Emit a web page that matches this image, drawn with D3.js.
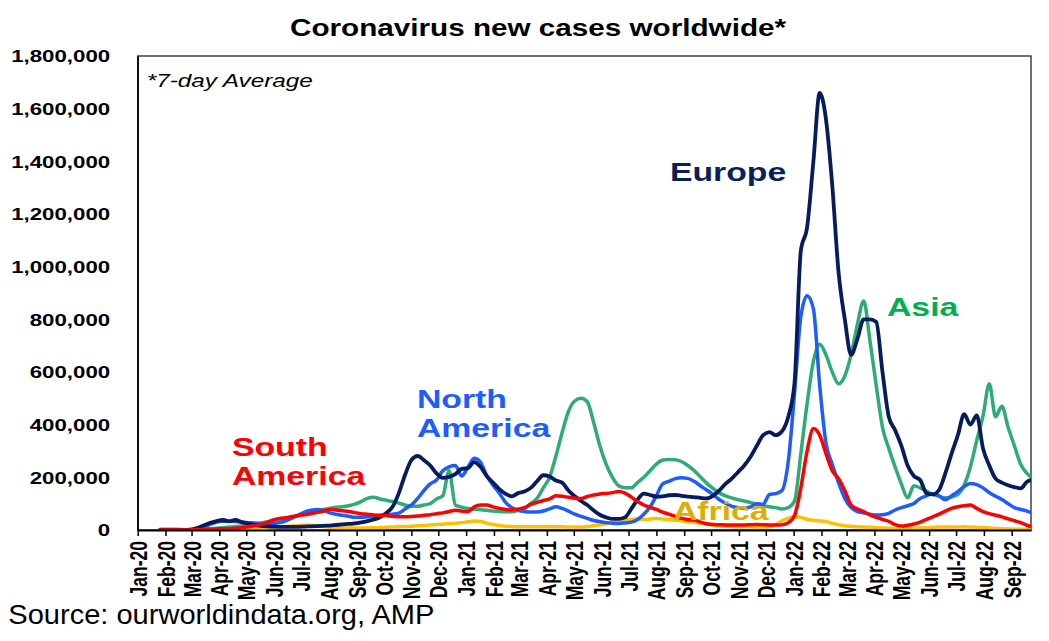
<!DOCTYPE html>
<html><head><meta charset="utf-8">
<script src="https://cdn.jsdelivr.net/npm/d3@7"></script>
<style>
body{margin:0;background:#fff}
svg{display:block;font-family:"Liberation Sans",Arial,Helvetica,sans-serif}
</style>
</head><body>
<svg id="chart" width="1049" height="641"></svg>
<script>
// ---- data (7-day average new cases, thousands; one value per week) ----
const firstDate = new Date(2020, 0, 26);
const stepDays = 7;

const europe = [0,0,0,0,0.5,2,8,18,27,34, 38,33,38,30,24,19,16,14,13,12,
12,12,12,13,14,15,16,17,19,21, 23,25,29,34,40,48,65,88,140,210,
265,281,265,245,215,198,202,212,232,235, 258,240,205,180,155,137,128,140,146,160,
185,208,203,188,180,150,128,110,95,75, 58,48,42,42,48,80,115,138,133,127,
128,132,133,130,127,125,122,120,130,150, 175,195,220,245,278,320,360,372,360,375,
430,560,1060,1150,1400,1660,1560,1310,980,800, 665,725,800,800,790,600,430,380,320,245,
205,190,140,135,152,215,290,360,440,400, 435,310,245,195,180,170,163,158,183,192];

const northAmerica = [0,0,0,0,0,1,5,12,22,30, 33,33,32,30,28,27,25,24,25,28,
35,45,57,68,75,78,74,65,60,56, 52,48,48,50,52,55,58,60,64,80,
95,120,150,175,190,225,240,245,205,238, 272,258,205,170,140,105,85,75,70,68,
68,72,80,88,82,72,60,52,44,36, 32,28,26,25,27,30,40,60,88,130,
175,185,195,198,196,185,168,152,135,116, 102,90,85,83,88,100,98,135,138,150,
260,520,810,890,840,550,330,250,180,120, 85,70,65,60,57,58,63,76,85,92,
101,120,130,138,130,115,130,146,165,177, 172,160,142,128,116,100,85,78,72,62];

const asia = [3,3,3,2,1,1,1.5,3,5,7, 9,11,13,15,18,22,26,31,36,40,
44,48,55,62,70,74,78,82,86,88, 92,98,108,120,124,118,113,108,102,95,
90,90,95,100,118,130,225,95,87,82, 79,77,75,72,70,69,69,75,82,100,
120,160,200,280,370,450,490,500,487,410, 320,250,200,168,160,160,180,200,225,250,
266,268,267,260,245,226,202,178,158,141, 130,122,115,110,104,98,92,88,85,80,
85,110,290,480,640,705,665,600,555,585, 665,780,870,720,550,390,310,240,175,122,
168,160,148,135,128,122,125,135,170,240, 340,432,555,430,470,390,320,250,215,195];

const southAmerica = [0,0,0,0,0,0.5,1,2,3,4, 5,5,7,9,12,16,21,28,38,44,
47,51,55,58,62,67,72,78,76,73, 70,66,62,60,57,56,55,52,50,50,
51,53,56,58,62,65,70,75,72,70, 88,95,95,88,82,78,76,80,85,97,
105,112,118,130,128,124,121,120,127,133, 137,139,142,146,140,125,108,95,86,78,
68,60,52,44,40,38,30,24,21,20, 19,19,19,19,20,21,20,19,19,20,
28,55,160,300,385,360,290,225,195,150, 95,80,70,57,48,40,33,20,15,18,
23,30,40,50,60,72,82,88,92,95, 82,70,62,56,50,42,35,28,18,10];

const africa = [0,0,0,0,0,0,0,0,0,0, 0,1,1.5,2,3,4,5,7,9,11,
13,15,17,18,18,16,13,11,9,8, 8,8,8,8,9,9,10,11,12,13,
14,16,17,19,21,22,24,26,28,31, 34,32,26,21,17,14,13,12,12,12,
12,12,12,12,12,11,11,11,13,16, 20,24,28,33,37,40,42,40,42,44,
42,40,38,35,32,29,26,23,19,16, 14,13,12,12,12,11,11,12,20,35,
45,50,48,40,37,35,32,25,20,16, 14,12,11,10,9,8,7,6,6,6,
7,8,9,10,11,11,11,11,12,11, 10,9,8,6,5,4,3,3,3,2];

const yTickValues = [0,200,400,600,800,1000,1200,1400,1600,1800];
const yTickLabels = ["0","200,000","400,000","600,000","800,000","1,000,000","1,200,000","1,400,000","1,600,000","1,800,000"];

const seriesNames = ["Africa","Asia","North America","Europe","South America"];
const seriesValues = [africa, asia, northAmerica, europe, southAmerica];
const seriesColors = ["#ffc000","#2eac76","#1f5cff","#061c5e","#ff0000"];

// ---- layout ----
const SX = 1.35; // horizontal stretch of the original picture
const pL = 137.7, pR = 1031, pT = 56, pB = 530;
const svg = d3.select("#chart");

const dates = d3.range(europe.length).map(i => d3.timeDay.offset(firstDate, i * stepDays));
const x = d3.scaleTime().domain([new Date(2020,0,1), new Date(2022,8,22,12)]).range([pL, pR]);
const y = d3.scaleLinear().domain([0, 1800]).range([pB, pT]);

svg.append("defs").append("clipPath").attr("id","plotclip")
  .append("rect").attr("x", pL).attr("y", pT - 10).attr("width", pR - pL).attr("height", pB - pT + 10);

// plot border
svg.append("rect").attr("x", pL).attr("y", pT).attr("width", pR - pL).attr("height", pB - pT)
  .attr("fill","none").attr("stroke","#222").attr("stroke-width",1.3);

// lines
const line = d3.line().x((d,i) => x(dates[i])).y(d => y(d)).curve(d3.curveMonotoneX);
const gLines = svg.append("g").attr("clip-path","url(#plotclip)");
seriesValues.forEach((vals, k) => {
  gLines.append("path").datum(vals)
    .attr("fill","none").attr("stroke", seriesColors[k])
    .attr("stroke-width", k === 3 ? 3.8 : 3.5)
    .attr("stroke-linejoin","round").attr("stroke-linecap","round")
    .attr("d", line);
});

// x axis
const monthTicks = d3.timeMonth.range(new Date(2020,0,1), new Date(2022,8,2));
const fmtMonth = d3.timeFormat("%b-%y");
const gx = svg.append("g").attr("transform", `translate(0,${pB})`)
  .call(d3.axisBottom(x).tickValues(monthTicks).tickSize(6).tickSizeOuter(0).tickFormat(fmtMonth));
gx.select(".domain").attr("stroke","#000").attr("stroke-width",2);
gx.selectAll(".tick line").attr("stroke","#000").attr("stroke-width",1.5);
gx.selectAll(".tick text")
  .attr("x",0).attr("y",0).attr("dy","0.36em")
  .attr("text-anchor","end")
  .attr("transform", `translate(0,11) scale(${SX},1) rotate(-90)`)
  .attr("font-size","17.5px").attr("font-weight","bold").attr("fill","#000")
  .attr("font-family",'"Liberation Sans",Arial,sans-serif');

// y axis
const gy = svg.append("g").attr("transform", `translate(${pL},0)`)
  .call(d3.axisLeft(y).tickValues(yTickValues).tickSize(0).tickSizeOuter(0)
    .tickFormat((d,i) => yTickLabels[i]));
gy.select(".domain").attr("stroke","#000").attr("stroke-width",1.5);
gy.selectAll(".tick text")
  .attr("x",0).attr("dy","0.36em").attr("text-anchor","end")
  .attr("transform", `translate(-27.5,0) scale(${SX},1)`)
  .attr("font-size","16.5px").attr("font-weight","bold").attr("fill","#000")
  .attr("font-family",'"Liberation Sans",Arial,sans-serif');

// text helper
function label(txt, tx, ty, size, color, opts = {}) {
  svg.append("text").text(txt)
    .attr("transform", `translate(${tx},${ty}) scale(${opts.sx || SX},1)`)
    .attr("font-size", size + "px")
    .attr("font-weight", opts.weight || "bold")
    .attr("font-style", opts.style || "normal")
    .attr("fill", color);
}

label("Coronavirus new cases worldwide*", 290, 35.5, 23, "#000", {sx: 1.29});
label("*7-day Average", 146.7, 87, 18, "#000", {weight: "normal", style: "italic"});
label("Europe", 670, 181, 25, "#0a1f5e");
label("Asia", 887, 316, 25, "#00b050");
label("North", 417, 408, 25, "#1f5cff");
label("America", 417, 436.5, 25, "#1f5cff");
label("South", 232, 456, 25, "#ff0000");
label("America", 232, 485, 25, "#ff0000");
label("Africa", 673, 520, 25, "#dfae00");
label("Source: ourworldindata.org, AMP", 8.3, 623.5, 27, "#000", {weight: "normal", sx: 1.076});
</script>
</body></html>
